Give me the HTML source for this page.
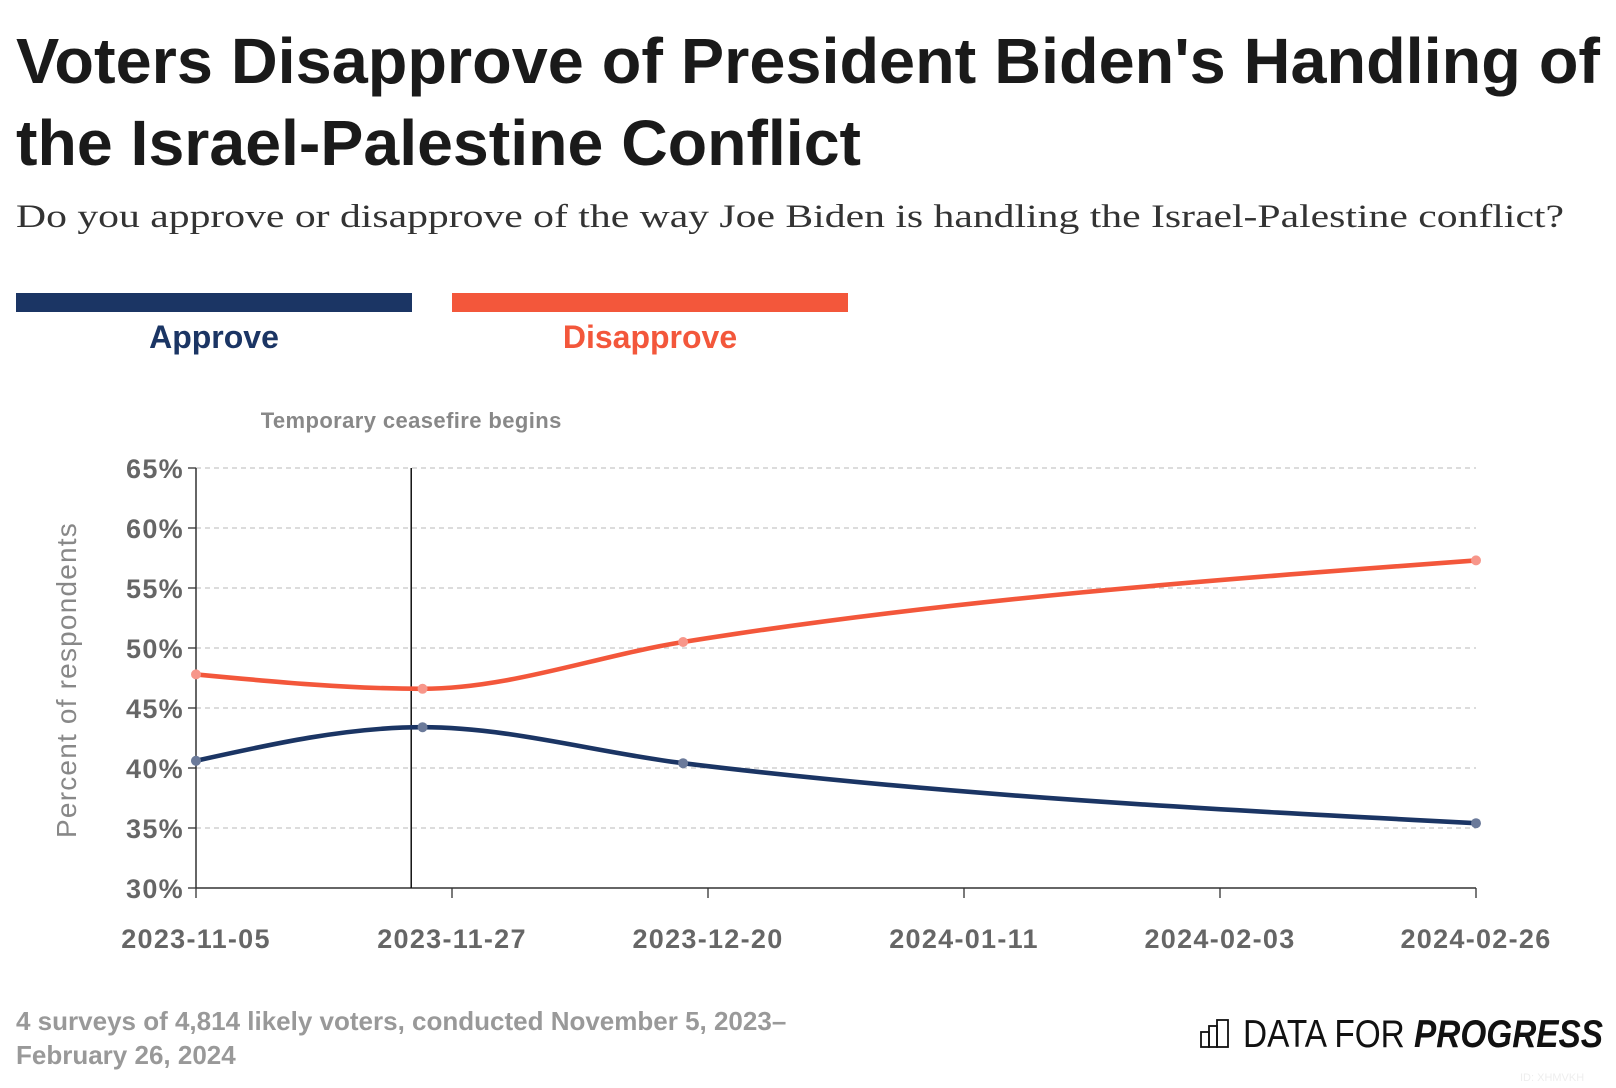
<!DOCTYPE html>
<html><head><meta charset="utf-8">
<style>
body{margin:0;background:#fff;width:1616px;height:1088px;overflow:hidden;font-family:"Liberation Sans",sans-serif;position:relative}
.t{position:absolute;margin:0;white-space:nowrap}
.fit{display:inline-block;transform-origin:0 0}
</style></head><body>
<div class="t" style="left:16px;top:20px;font-size:64px;line-height:82px;font-weight:bold;color:#1a1a1a">
<span class="fit" data-w="1584">Voters Disapprove of President Biden's Handling of</span><br>
<span class="fit" data-w="845">the Israel-Palestine Conflict</span></div>
<div class="t" style="left:16px;top:199px;font-family:'Liberation Serif',serif;font-size:33px;color:#333"><span class="fit" data-w="1548">Do you approve or disapprove of the way Joe Biden is handling the Israel-Palestine conflict?</span></div>
<div class="t" style="left:16px;top:293px;width:396px;height:19px;background:#1b3564"></div>
<div class="t" style="left:452px;top:293px;width:396px;height:19px;background:#f3573b"></div>
<div class="t" style="left:16px;width:396px;text-align:center;top:319px;font-size:32px;font-weight:bold;color:#1b3564">Approve</div>
<div class="t" style="left:452px;width:396px;text-align:center;top:319px;font-size:32px;font-weight:bold;color:#f3573b">Disapprove</div>
<svg id="chart" width="1616" height="1088" style="position:absolute;left:0;top:0"></svg>
<div class="t" style="left:16px;top:1004px;font-size:26px;line-height:34px;font-weight:bold;color:#999">4 surveys of 4,814 likely voters, conducted November 5, 2023–<br>February 26, 2024</div>
<div class="t" style="left:1200px;top:1012px;font-size:39px;line-height:46px;color:#111">
<svg width="32" height="30" style="vertical-align:-1px"><rect x="1" y="14" width="8" height="15" fill="none" stroke="#111" stroke-width="1.8"/><rect x="9" y="8" width="8" height="21" fill="none" stroke="#111" stroke-width="1.8"/><rect x="17" y="2" width="11" height="27" fill="none" stroke="#111" stroke-width="1.8"/></svg>
<span class="fit" data-w="360" style="vertical-align:top"><span style="font-weight:300">DATA FOR</span> <b><i>PROGRESS</i></b></span></div>
<div class="t" style="left:1520px;top:1072px;font-size:11px;color:#eee">ID: XHMVKH</div>
<script>
document.querySelectorAll('.fit').forEach(e=>{const w=e.getBoundingClientRect().width;e.style.transform=`scaleX(${e.dataset.w/w})`;});
const dates=["2023-11-05","2023-11-25","2023-12-18","2024-02-26"];
const approve=[40.6,43.4,40.4,35.4];
const disapprove=[47.8,46.6,50.5,57.3];
const yTicks=[30,35,40,45,50,55,60,65];
const xTickLabels=["2023-11-05","2023-11-27","2023-12-20","2024-01-11","2024-02-03","2024-02-26"];
const eventDate="2023-11-24";
const eventLabel="Temporary ceasefire begins";
const NS="http://www.w3.org/2000/svg",svg=document.getElementById('chart');
const X0=196,X1=1476,Y0=888,Y1=468;
const t0=Date.parse(dates[0]),t1=Date.parse(dates[dates.length-1]);
const x=d=>X0+(Date.parse(d)-t0)/(t1-t0)*(X1-X0);
const y=v=>Y0-(v-30)/35*(Y0-Y1);
function mk(tag,a,txt){const e=document.createElementNS(NS,tag);for(const k in a)e.setAttribute(k,a[k]);if(txt!=null)e.textContent=txt;svg.appendChild(e);return e;}
yTicks.forEach(v=>{
 if(v>30){const g=mk('line',{x1:X0,x2:X1,y1:y(v),y2:y(v),stroke:'#c8c8c8','stroke-width':1.3,'stroke-dasharray':'5,4'});
 }
 const tk=mk('line',{x1:X0-8,x2:X0,y1:y(v),y2:y(v),stroke:'#333','stroke-width':1.3});
 
 const l=mk('text',{x:X0-12,y:y(v)+10,'text-anchor':'end','font-size':27,'letter-spacing':1.3,'font-weight':'bold',fill:'#666'},v+'%');
 
});
const ax=mk('line',{x1:X0,x2:X0,y1:Y1,y2:Y0,stroke:'#333','stroke-width':1.5});

const bx=mk('line',{x1:X0,x2:X1,y1:Y0,y2:Y0,stroke:'#333','stroke-width':1.5});

xTickLabels.forEach((s,i)=>{
 const px=X0+i*(X1-X0)/(xTickLabels.length-1);
 const tk=mk('line',{x1:px,x2:px,y1:Y0,y2:Y0+10,stroke:'#333','stroke-width':1.3});
 
 const l=mk('text',{x:px,y:Y0+60,'text-anchor':'middle','font-size':27,'letter-spacing':1.3,'font-weight':'bold',fill:'#666'},s);
 
});
const yt=mk('text',{x:0,y:0,transform:`translate(76,${(Y0+Y1)/2+2}) rotate(-90)`,'text-anchor':'middle','font-size':28,'letter-spacing':1.2,fill:'#888'},'Percent of respondents');

const ev=mk('line',{x1:x(eventDate),x2:x(eventDate),y1:Y1,y2:Y0,stroke:'#111','stroke-width':1.5});

const et=mk('text',{x:x(eventDate),y:428,'text-anchor':'middle','font-size':22,'letter-spacing':0.4,'font-weight':'bold',fill:'#888'},eventLabel);

function monotone(xs,ys){
 const n=xs.length,d=[],m=[];
 for(let i=0;i<n-1;i++)d.push((ys[i+1]-ys[i])/(xs[i+1]-xs[i]));
 for(let i=0;i<n;i++){
  if(i===0||i===n-1){m.push(null);continue;}
  const h0=xs[i]-xs[i-1],h1=xs[i+1]-xs[i];
  if(d[i-1]*d[i]<=0)m.push(0);else{const p=(d[i-1]*h1+d[i]*h0)/(h0+h1);m.push((Math.sign(d[i-1])+Math.sign(d[i]))*Math.min(Math.abs(d[i-1]),Math.abs(d[i]),0.5*Math.abs(p)));}
 }
 m[0]=(3*d[0]-m[1])/2;m[n-1]=(3*d[n-2]-m[n-2])/2;
 let p=`M${xs[0]},${ys[0]}`;
 for(let i=0;i<n-1;i++){const h=(xs[i+1]-xs[i])/3;p+=`C${xs[i]+h},${ys[i]+h*m[i]} ${xs[i+1]-h},${ys[i+1]-h*m[i+1]} ${xs[i+1]},${ys[i+1]}`;}
 return p;
}
[[approve,'#1b3564','#6b7a9a','approve'],[disapprove,'#f3573b','#f7968a','disapprove']].forEach(([vals,c,dc,nm])=>{
 const xs=dates.map(x),ys=vals.map(y);
 const ln=mk('path',{d:monotone(xs,ys),fill:'none',stroke:c,'stroke-width':4.6});
 
 xs.forEach((px,i)=>{const p=mk('circle',{cx:px,cy:ys[i],r:5,fill:dc});
  });
});
</script>
</body></html>
